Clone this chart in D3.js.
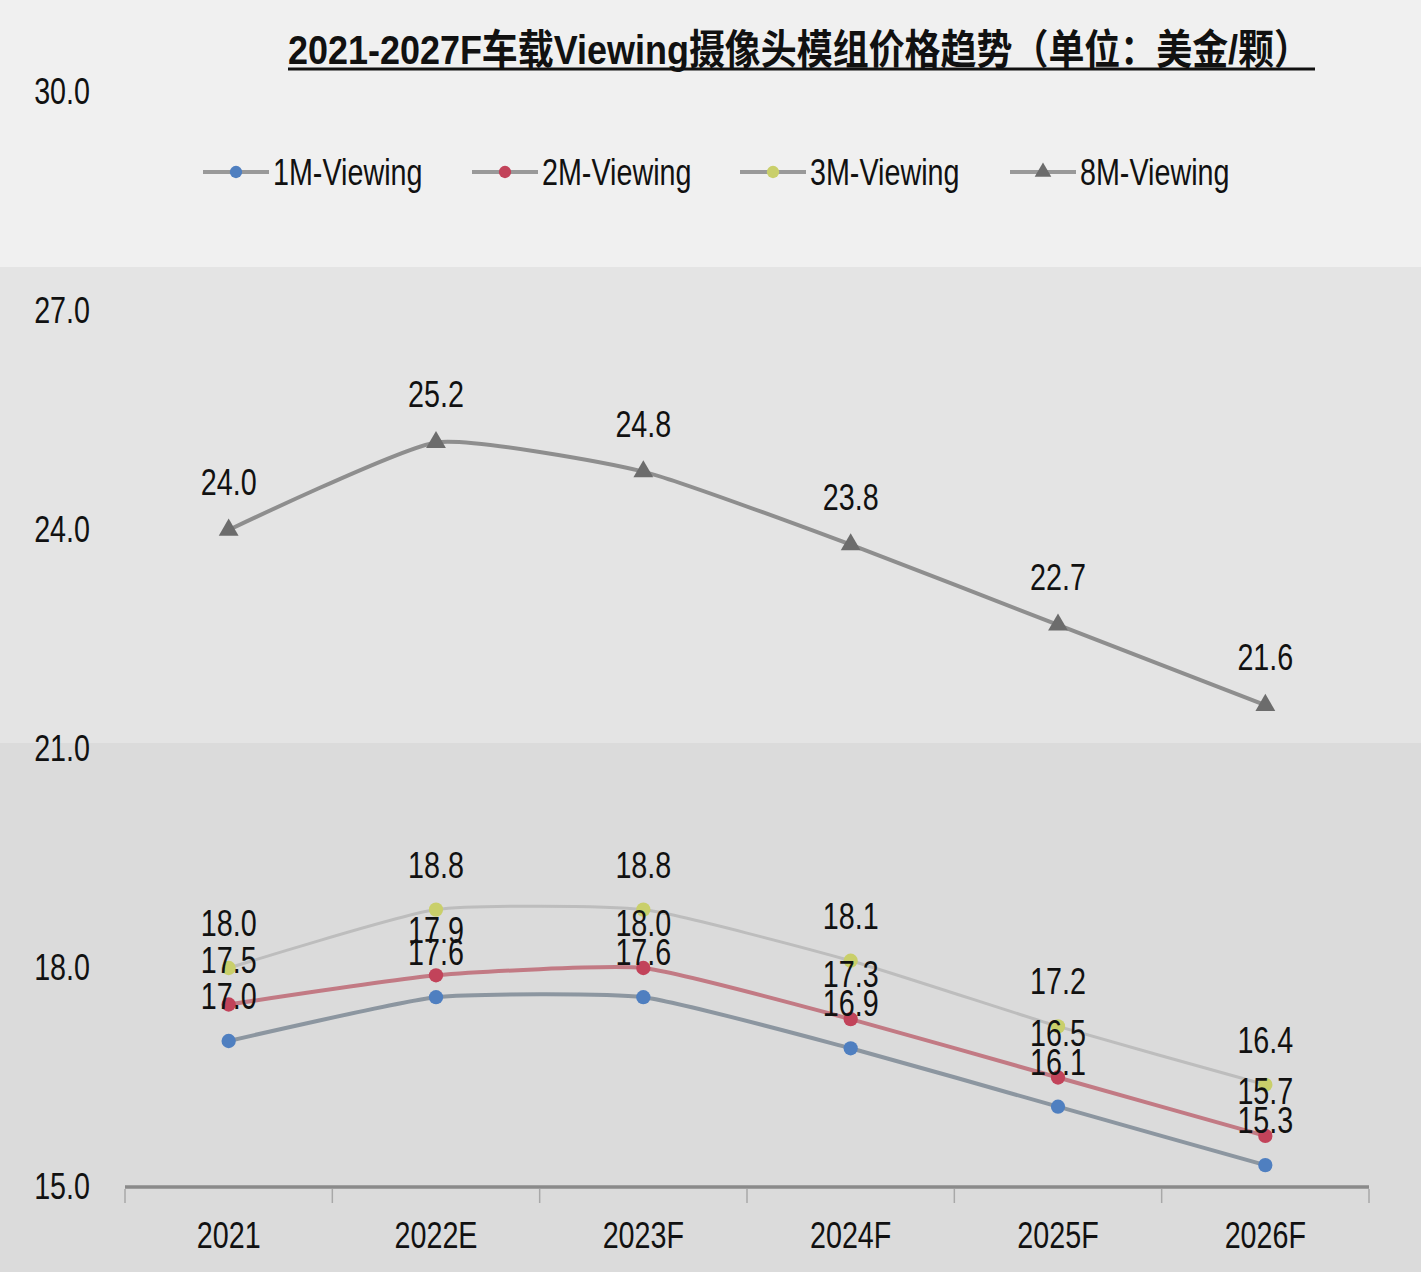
<!DOCTYPE html>
<html><head><meta charset="utf-8">
<script src="https://cdn.jsdelivr.net/npm/d3@7"></script>
<style>html,body{margin:0;padding:0;background:#f0f0f0;}svg{display:block;}</style>
</head><body>
<svg id="chart" width="1421" height="1272"></svg>
<script>
const categories = ["2021","2022E","2023F","2024F","2025F","2026F"];
const s1M = [17.0,17.6,17.6,16.9,16.1,15.3];
const s2M = [17.5,17.9,18.0,17.3,16.5,15.7];
const s3M = [18.0,18.8,18.8,18.1,17.2,16.4];
const s8M = [24.0,25.2,24.8,23.8,22.7,21.6];
const seriesNames = ["1M-Viewing","2M-Viewing","3M-Viewing","8M-Viewing"];
const yTicks = [15,18,21,24,27,30];
const titleText = "2021-2027F车载Viewing摄像头模组价格趋势（单位：美金/颗）";

const W = 1421, H = 1272;
const svg = d3.select("#chart");
const FONT = "'Liberation Sans', Arial, 'Noto Sans CJK SC', sans-serif";
const SX = 0.87, SY = 1.1, FS = 33;

// background panels
svg.append("rect").attr("x",0).attr("y",0).attr("width",W).attr("height",267).attr("fill","#f0f0f0");
svg.append("rect").attr("x",0).attr("y",267).attr("width",W).attr("height",476).attr("fill","#e4e4e4");
svg.append("rect").attr("x",0).attr("y",743).attr("width",W).attr("height",H-743).attr("fill","#dbdbdb");

const x = d3.scaleBand().domain(categories).range([125,1369]).paddingInner(0).paddingOuter(0);
const y = d3.scaleLinear().domain([15,30]).range([1187,92]);
const cx = c => x(c) + x.bandwidth()/2;

function txt(g, s, px, py, anchor, opts={}) {
  return g.append("text")
    .attr("transform", `translate(${px},${py}) scale(${opts.sx||SX},${opts.sy||SY})`)
    .attr("text-anchor", anchor)
    .attr("font-family", FONT)
    .attr("font-size", opts.fs || FS)
    .attr("font-weight", opts.fw || "normal")
    .attr("fill", "#111")
    .text(s);
}

// title
svg.append("text")
  .attr("transform","translate(288,64) scale(1,1.05)")
  .attr("x",0).attr("y",0)
  .attr("font-family", FONT).attr("font-size",39).attr("font-weight","bold")
  .attr("textLength",1022).attr("lengthAdjust","spacingAndGlyphs")
  .attr("fill","#111").text(titleText);
svg.append("line").attr("x1",288).attr("x2",1315).attr("y1",69).attr("y2",69)
  .attr("stroke","#111").attr("stroke-width",3);

// y tick labels
const yg = svg.append("g");
yTicks.forEach(t => txt(yg, d3.format(".1f")(t), 90, y(t)+12, "end"));

// x axis
const xg = svg.append("g");
xg.append("line").attr("x1",125).attr("x2",1369).attr("y1",y(15)).attr("y2",y(15))
  .attr("stroke","#8a8a8a").attr("stroke-width",3.5);
const bounds = categories.map(c => x(c)).concat([x(categories[categories.length-1]) + x.bandwidth()]);
bounds.forEach(b => xg.append("line").attr("x1",b).attr("x2",b).attr("y1",y(15)+2).attr("y2",y(15)+16)
  .attr("stroke","#a8a8a8").attr("stroke-width",1.5));
categories.forEach(c => txt(xg, c, cx(c), 1248, "middle"));

// series
const series = [
  {name:seriesNames[0], vals:s1M, line:"#8c96a0", lw:4, mark:"#4f7fc0", sym:d3.symbolCircle},
  {name:seriesNames[1], vals:s2M, line:"#c27a84", lw:4, mark:"#c2435a", sym:d3.symbolCircle},
  {name:seriesNames[2], vals:s3M, line:"#bdbdbd", lw:3, mark:"#c9cf6a", sym:d3.symbolCircle},
  {name:seriesNames[3], vals:s8M, line:"#8e8e8e", lw:4, mark:"#6c6c6c", sym:d3.symbolTriangle}
];

const lineGen = d3.line().x(d => cx(d.c)).y(d => y(d.v)).curve(d3.curveCardinal.tension(0.5));
const plot = svg.append("g");
series.slice().reverse().forEach(s => {
  const pts = s.vals.map((v,i) => ({c:categories[i], v}));
  plot.append("path").attr("d", lineGen(pts)).attr("fill","none")
    .attr("stroke", s.line).attr("stroke-width", s.lw).attr("stroke-linecap","round");
});
series.slice().reverse().forEach(s => {
  s.vals.forEach((v,i) => {
    plot.append("path")
      .attr("d", d3.symbol().type(s.sym).size(s.sym===d3.symbolTriangle ? 170 : 160)())
      .attr("transform", `translate(${cx(categories[i])},${y(v)})`)
      .attr("fill", s.mark);
  });
});
const lab = svg.append("g");
series.forEach(s => {
  s.vals.forEach((v,i) => {
    txt(lab, d3.format(".1f")(v), cx(categories[i]), y(v) - (s.sym===d3.symbolTriangle ? 35 : 32), "middle");
  });
});

// legend
const legendX = [236, 505, 773, 1043];
const lg = svg.append("g");
series.forEach((s,i) => {
  const lx = legendX[i], ly = 172;
  lg.append("line").attr("x1",lx-33).attr("x2",lx+33).attr("y1",ly).attr("y2",ly)
    .attr("stroke","#999").attr("stroke-width",4);
  lg.append("path").attr("d", d3.symbol().type(s.sym).size(120)())
    .attr("transform", `translate(${lx},${ly})`).attr("fill", s.mark);
  txt(lg, s.name, lx+37, ly+13, "start");
});
</script>
</body></html>
